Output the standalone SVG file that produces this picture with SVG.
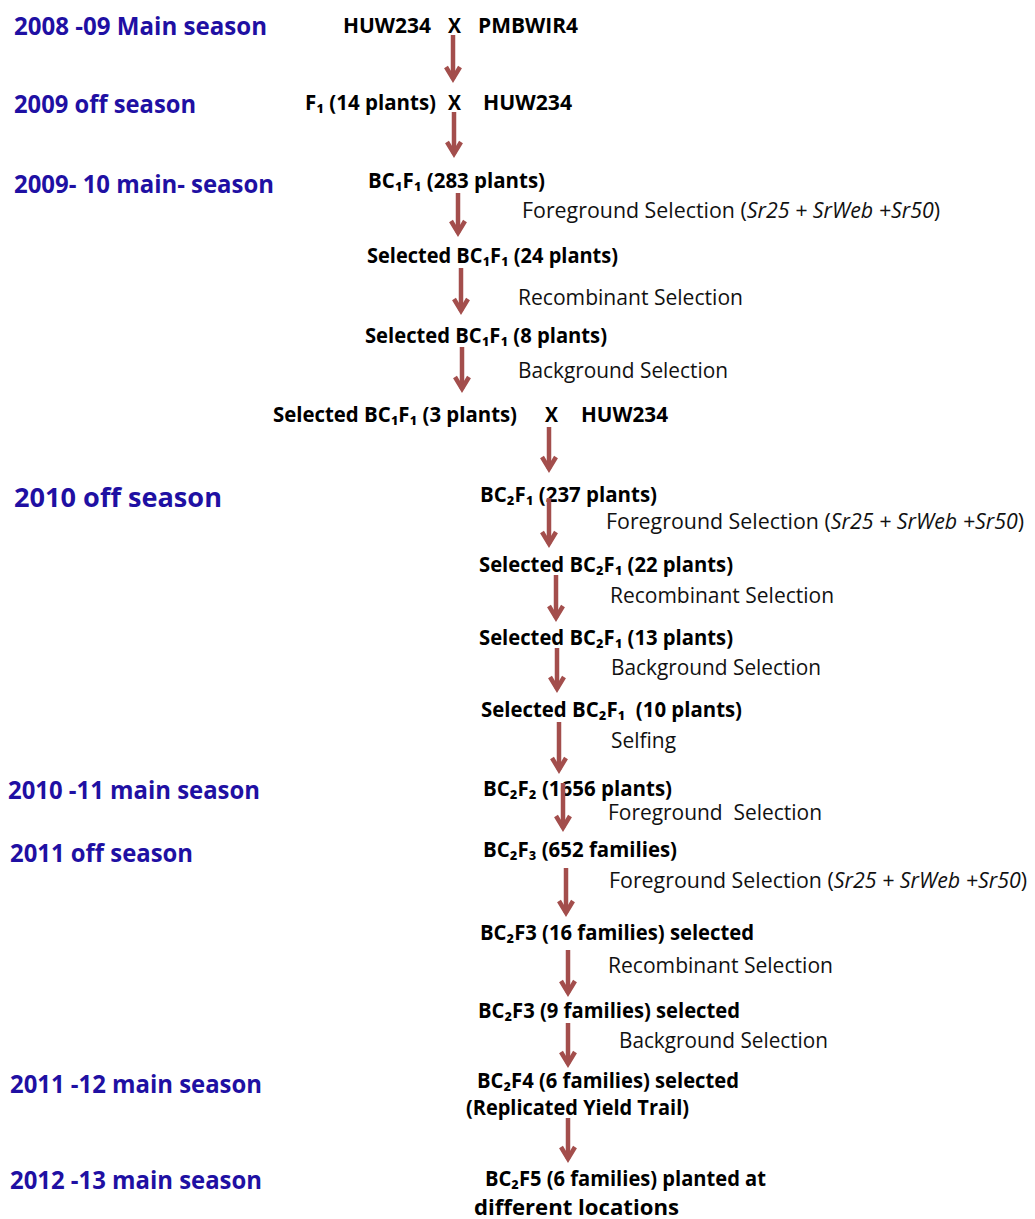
<svg xmlns="http://www.w3.org/2000/svg" width="1035" height="1219" viewBox="0 0 1035 1219">
<style>
.season{font-family:"Open Sans","Noto Sans","Liberation Sans",sans-serif;font-weight:bold;font-size:25.5px;fill:#1F10A3}
.node{font-family:"Open Sans","Noto Sans","DejaVu Sans",sans-serif;font-weight:bold;font-size:22px;fill:#000}
.lab{font-family:"Open Sans","Noto Sans","Liberation Sans",sans-serif;font-size:21.5px;fill:#111}
.it{font-style:italic}
.arr{fill:none;stroke:#A34E4C;stroke-width:4.5}
</style>
<defs>
<marker id="ah" viewBox="-20 -12 26 24" refX="0" refY="0" markerWidth="26" markerHeight="24" markerUnits="userSpaceOnUse" orient="auto" overflow="visible">
<path d="M -12 -7 L -0.4 0 L -12 7" fill="none" stroke="#A34E4C" stroke-width="4.5" stroke-linejoin="miter" stroke-miterlimit="10"/>
</marker>
</defs>
<rect width="1035" height="1219" fill="#fff"/>

<g id="seasons">
<g id="s1"><text class="season" x="14" y="35" textLength="253" lengthAdjust="spacingAndGlyphs">2008 -09 Main season</text></g>
<g id="s2"><text class="season" x="14" y="113" textLength="182" lengthAdjust="spacingAndGlyphs">2009 off season</text></g>
<g id="s3"><text class="season" x="14" y="193" textLength="260" lengthAdjust="spacingAndGlyphs">2009- 10 main- season</text></g>
<g id="s4"><text class="season" x="14" y="507" textLength="208" lengthAdjust="spacingAndGlyphs" style="font-size:27px">2010 off season</text></g>
<g id="s5"><text class="season" x="8" y="799" textLength="252" lengthAdjust="spacingAndGlyphs">2010 -11 main season</text></g>
<g id="s6"><text class="season" x="10" y="862" textLength="183" lengthAdjust="spacingAndGlyphs">2011 off season</text></g>
<g id="s7"><text class="season" x="10" y="1093" textLength="252" lengthAdjust="spacingAndGlyphs">2011 -12 main season</text></g>
<g id="s8"><text class="season" x="10" y="1189" textLength="252" lengthAdjust="spacingAndGlyphs">2012 -13 main season</text></g>
</g>

<g id="n1">
<text class="node" x="343" y="33" textLength="88" lengthAdjust="spacingAndGlyphs">HUW234</text>
<text class="node" x="448" y="33" textLength="13" lengthAdjust="spacingAndGlyphs">X</text>
<text class="node" x="478" y="33" textLength="100" lengthAdjust="spacingAndGlyphs">PMBWIR4</text>
</g>
<g id="n2">
<text class="node" x="305" y="110" textLength="131" lengthAdjust="spacingAndGlyphs">F₁ (14 plants)</text>
<text class="node" x="448" y="110" textLength="13" lengthAdjust="spacingAndGlyphs">X</text>
<text class="node" x="483" y="110" textLength="89" lengthAdjust="spacingAndGlyphs">HUW234</text>
</g>
<g id="n3"><text class="node" x="368" y="188" textLength="177" lengthAdjust="spacingAndGlyphs">BC₁F₁ (283 plants)</text></g>
<g id="l1"><text class="lab" x="522" y="218" textLength="418" lengthAdjust="spacingAndGlyphs">Foreground Selection (<tspan class="it">Sr25 + SrWeb +Sr50</tspan>)</text></g>
<g id="n4"><text class="node" x="367" y="263" textLength="251" lengthAdjust="spacingAndGlyphs">Selected BC₁F₁ (24 plants)</text></g>
<g id="l2"><text class="lab" x="518" y="305" textLength="225" lengthAdjust="spacingAndGlyphs">Recombinant Selection</text></g>
<g id="n5"><text class="node" x="365" y="343" textLength="242" lengthAdjust="spacingAndGlyphs">Selected BC₁F₁ (8 plants)</text></g>
<g id="l3"><text class="lab" x="518" y="378" textLength="210" lengthAdjust="spacingAndGlyphs">Background Selection</text></g>
<g id="n6">
<text class="node" x="273" y="422" textLength="244" lengthAdjust="spacingAndGlyphs">Selected BC₁F₁ (3 plants)</text>
<text class="node" x="545" y="422" textLength="13" lengthAdjust="spacingAndGlyphs">X</text>
<text class="node" x="581" y="422" textLength="87" lengthAdjust="spacingAndGlyphs">HUW234</text>
</g>
<g id="n7"><text class="node" x="480" y="502" textLength="177" lengthAdjust="spacingAndGlyphs">BC₂F₁ (237 plants)</text></g>
<g id="l4"><text class="lab" x="606" y="529" textLength="418" lengthAdjust="spacingAndGlyphs">Foreground Selection (<tspan class="it">Sr25 + SrWeb +Sr50</tspan>)</text></g>
<g id="n8"><text class="node" x="479" y="572" textLength="254" lengthAdjust="spacingAndGlyphs">Selected BC₂F₁ (22 plants)</text></g>
<g id="l5"><text class="lab" x="610" y="603" textLength="224" lengthAdjust="spacingAndGlyphs">Recombinant Selection</text></g>
<g id="n9"><text class="node" x="479" y="645" textLength="254" lengthAdjust="spacingAndGlyphs">Selected BC₂F₁ (13 plants)</text></g>
<g id="l6"><text class="lab" x="611" y="675" textLength="210" lengthAdjust="spacingAndGlyphs">Background Selection</text></g>
<g id="n10"><text class="node" x="481" y="717" textLength="261" lengthAdjust="spacingAndGlyphs" xml:space="preserve">Selected BC₂F₁  (10 plants)</text></g>
<g id="l7"><text class="lab" x="611" y="748" textLength="65" lengthAdjust="spacingAndGlyphs">Selfing</text></g>
<g id="n11"><text class="node" x="483" y="796" textLength="189" lengthAdjust="spacingAndGlyphs">BC₂F₂ (1656 plants)</text></g>
<g id="l8"><text class="lab" x="608" y="820" textLength="214" lengthAdjust="spacingAndGlyphs" xml:space="preserve">Foreground  Selection</text></g>
<g id="n12"><text class="node" x="483" y="857" textLength="194" lengthAdjust="spacingAndGlyphs">BC₂F₃ (652 families)</text></g>
<g id="l9"><text class="lab" x="609" y="888" textLength="418" lengthAdjust="spacingAndGlyphs">Foreground Selection (<tspan class="it">Sr25 + SrWeb +Sr50</tspan>)</text></g>
<g id="n13"><text class="node" x="480" y="940" textLength="274" lengthAdjust="spacingAndGlyphs">BC₂F3 (16 families) selected</text></g>
<g id="l10"><text class="lab" x="608" y="973" textLength="225" lengthAdjust="spacingAndGlyphs">Recombinant Selection</text></g>
<g id="n14"><text class="node" x="478" y="1018" textLength="262" lengthAdjust="spacingAndGlyphs">BC₂F3 (9 families) selected</text></g>
<g id="l11"><text class="lab" x="619" y="1048" textLength="209" lengthAdjust="spacingAndGlyphs">Background Selection</text></g>
<g id="n15">
<text class="node" x="477" y="1088" textLength="262" lengthAdjust="spacingAndGlyphs">BC₂F4 (6 families) selected</text>
<text class="node" x="466" y="1115" textLength="223" lengthAdjust="spacingAndGlyphs">(Replicated Yield Trail)</text>
</g>
<g id="n16">
<text class="node" x="485" y="1186" textLength="281" lengthAdjust="spacingAndGlyphs">BC₂F5 (6 families) planted at</text>
<text class="node" x="474" y="1215" textLength="205" lengthAdjust="spacingAndGlyphs">different locations</text>
</g>

<g id="connectors">
<path class="arr" marker-end="url(#ah)" d="M453 35 V79"/>
<path class="arr" marker-end="url(#ah)" d="M454 112 V154"/>
<path class="arr" marker-end="url(#ah)" d="M458 193 V233"/>
<path class="arr" marker-end="url(#ah)" d="M461 268 V311"/>
<path class="arr" marker-end="url(#ah)" d="M462 347 V389"/>
<path class="arr" marker-end="url(#ah)" d="M549 427 V469"/>
<path class="arr" marker-end="url(#ah)" d="M549 498 V544"/>
<path class="arr" marker-end="url(#ah)" d="M556 575 V618"/>
<path class="arr" marker-end="url(#ah)" d="M557 648 V689"/>
<path class="arr" marker-end="url(#ah)" d="M559 722 V770"/>
<path class="arr" marker-end="url(#ah)" d="M563 783 V828"/>
<path class="arr" marker-end="url(#ah)" d="M566 868 V913"/>
<path class="arr" marker-end="url(#ah)" d="M568 950 V993"/>
<path class="arr" marker-end="url(#ah)" d="M568 1023 V1064"/>
<path class="arr" marker-end="url(#ah)" d="M568 1118 V1159"/>
</g>
</svg>
